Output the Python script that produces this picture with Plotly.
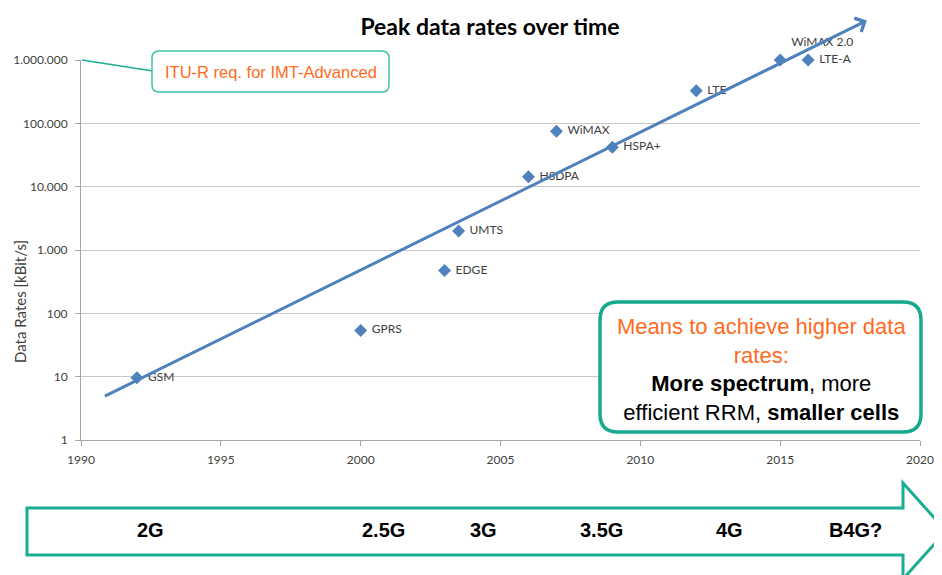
import numpy as np
import plotly.graph_objects as go

# Peak data rates (kBit/s) per technology
techs = ["GSM", "GPRS", "EDGE", "UMTS", "HSDPA", "WiMAX", "HSPA+", "LTE", "WiMAX 2.0", "LTE-A"]
years = [1992, 2000, 2003, 2003.5, 2006, 2007, 2009, 2012, 2015, 2016]
rates = [9.6, 53.6, 473, 2000, 14400, 75000, 42000, 326000, 1000000, 1000000]

# trend arrow (start, end)
trend_years = [1990.8, 2018.1]
trend_rates = [4.8, 4.2e6]

x_ticks = [1990, 1995, 2000, 2005, 2010, 2015, 2020]
y_tickvals = [1, 10, 100, 1000, 10000, 100000, 1000000]
y_ticktext = ["1", "10", "100", "1.000", "10.000", "100.000", "1.000.000"]

# generations on the timeline arrow
gen_labels = ["2G", "2.5G", "3G", "3.5G", "4G", "B4G?"]
gen_years = [1992.5, 2000.8, 2004.4, 2008.6, 2013.2, 2017.7]

# the page puts the plot 8px in from the top-left corner
OFF = 8
W, H = 942 - OFF, 575 - OFF
# plot area in screen pixels
L, R, T, B = 81, 920, 60, 440
BLUE = "#4F81BD"
TEAL = "#1BAE94"
ORANGE = "#FF6A21"
GREY = "#404040"


def px(x):
    return (x - L) / (R - L)


def py(y):
    return (B - y) / (B - T)


def rounded_box(x0, y0, x1, y1, r):
    pts = [
        ("M", [(x0 + r, y0)]), ("L", [(x1 - r, y0)]), ("Q", [(x1, y0), (x1, y0 + r)]),
        ("L", [(x1, y1 - r)]), ("Q", [(x1, y1), (x1 - r, y1)]),
        ("L", [(x0 + r, y1)]), ("Q", [(x0, y1), (x0, y1 - r)]),
        ("L", [(x0, y0 + r)]), ("Q", [(x0, y0), (x0 + r, y0)]),
    ]
    out = []
    for cmd, coords in pts:
        out.append(cmd + " " + " ".join(f"{px(a):.5f},{py(b):.5f}" for a, b in coords))
    return " ".join(out) + " Z"


def poly(points):
    return "M " + " L ".join(f"{px(a):.5f},{py(b):.5f}" for a, b in points) + " Z"


fig = go.Figure()
fig.add_trace(go.Scatter(
    x=years, y=rates, mode="markers",
    marker=dict(symbol="diamond", size=10, color=BLUE),
    cliponaxis=False, showlegend=False,
))
# labels, pushed away from the diamonds by a larger invisible marker
fig.add_trace(go.Scatter(
    x=years, y=rates, mode="markers+text",
    text=techs,
    textposition=["middle right"] * 8 + ["top right", "middle right"],
    textfont=dict(family="Lato", size=12, color=GREY),
    marker=dict(size=16, opacity=0),
    cliponaxis=False, showlegend=False, hoverinfo="skip",
))

annotations = [
    dict(x=trend_years[1], y=np.log10(trend_rates[1]),
         ax=trend_years[0], ay=np.log10(trend_rates[0]),
         xref="x", yref="y", axref="x", ayref="y",
         text="", showarrow=True, arrowhead=4, arrowsize=1,
         arrowwidth=3, arrowcolor=BLUE),
    dict(x=px(20), y=py(302), xref="paper", yref="paper",
         xanchor="center", yanchor="middle",
         text="Data Rates [kBit/s]", textangle=-90, showarrow=False,
         font=dict(family="Lato", size=15, color=GREY)),
    dict(x=px(271), y=py(72), xref="paper", yref="paper",
         xanchor="center", yanchor="middle",
         text="ITU-R req. for IMT-Advanced", showarrow=False,
         font=dict(family="Liberation Sans", size=16.5, color=ORANGE)),
    dict(x=px(761), y=py(369), xref="paper", yref="paper",
         xanchor="center", yanchor="middle",
         text=(f"<span style='color:{ORANGE}'>Means to achieve higher data<br>rates:</span><br>"
               "<b>More spectrum</b>, more<br>efficient RRM, <b>smaller cells</b>"),
         showarrow=False, align="center",
         font=dict(family="Liberation Sans", size=22, color="#000000")),
]
for lab, yr in zip(gen_labels, gen_years):
    annotations.append(dict(
        x=yr, y=py(530), xref="x", yref="paper", text=f"<b>{lab}</b>",
        xanchor="center", yanchor="middle", showarrow=False,
        font=dict(family="Liberation Sans", size=20, color="#000000"),
    ))

shapes = [
    dict(type="line", xref="paper", yref="paper", x0=px(82), y0=py(60), x1=px(153), y1=py(71),
         line=dict(color=TEAL, width=1.5)),
    dict(type="path", xref="paper", yref="paper", path=rounded_box(152, 51, 389, 92, 7),
         line=dict(color="#3EC1AA", width=1.5), fillcolor="white"),
    dict(type="path", xref="paper", yref="paper", path=rounded_box(600, 302, 921, 432, 18),
         line=dict(color="#17A98F", width=3.5), fillcolor="white"),
    dict(type="path", xref="paper", yref="paper",
         path=poly([(27, 508), (903, 508), (903, 483), (946, 531), (903, 579), (903, 555), (27, 555)]),
         line=dict(color=TEAL, width=3), fillcolor="white"),
]

fig.update_layout(
    width=W, height=H, autosize=False,
    margin=dict(l=L - OFF, r=942 - R, t=T - OFF, b=575 - B),
    paper_bgcolor="white", plot_bgcolor="white",
    title=dict(text="<b>Peak data rates over time</b>", x=(490 - OFF) / W, y=1 - (27 - OFF) / H,
               xref="container", yref="container", xanchor="center", yanchor="middle",
               font=dict(family="Lato", size=23, color="#000000")),
    annotations=annotations, shapes=shapes,
    showlegend=False,
)
fig.update_xaxes(
    range=[1990, 2020], tickvals=x_ticks, showgrid=False, zeroline=False,
    showline=True, linecolor="#A6A6A6", linewidth=1, automargin=False,
    ticks="outside", ticklen=5, tickcolor="#A6A6A6", ticklabelstandoff=4,
    tickfont=dict(family="Lato", size=12, color=GREY),
)
fig.update_yaxes(
    type="log", range=[0, 6], tickvals=y_tickvals, ticktext=y_ticktext,
    showgrid=True, gridcolor="#C8C8C8", gridwidth=1, zeroline=False,
    showline=True, linecolor="#A6A6A6", linewidth=1, automargin=False,
    ticks="outside", ticklen=5, tickcolor="#A6A6A6", ticklabelstandoff=5,
    tickfont=dict(family="Lato", size=12, color=GREY),
)

fig.write_html("out.html")
